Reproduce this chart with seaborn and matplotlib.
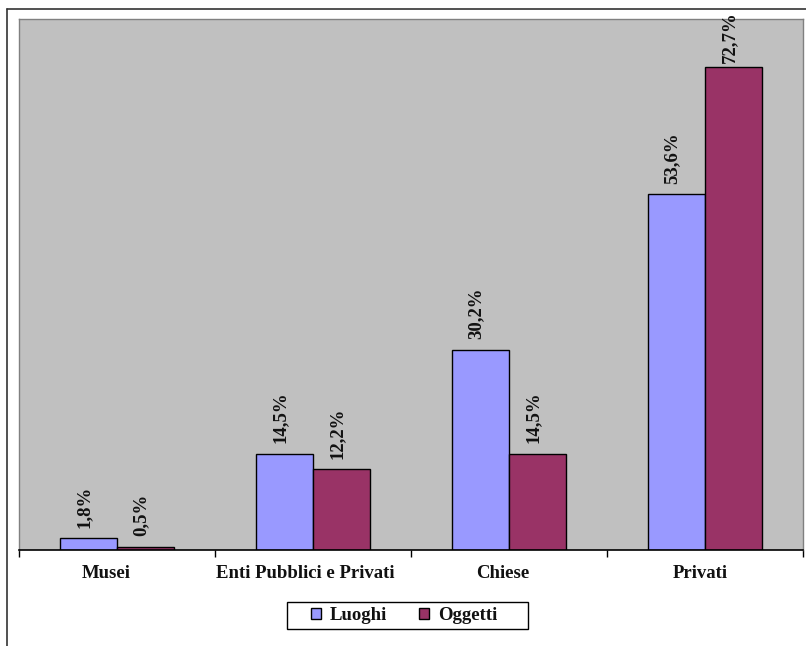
import matplotlib
matplotlib.use("Agg")
import matplotlib.pyplot as plt
from matplotlib.lines import Line2D
from matplotlib.patches import Patch, Rectangle
from matplotlib.transforms import ScaledTranslation
import seaborn as sns
import pandas as pd

categories = ["Musei", "Enti Pubblici e Privati", "Chiese", "Privati"]
luoghi = [1.8, 14.5, 30.2, 53.6]
oggetti = [0.5, 12.2, 14.5, 72.7]
series_names = ["Luoghi", "Oggetti"]
colors = ["#9999FF", "#993366"]

df = pd.DataFrame({
    "categoria": categories * 2,
    "serie": [series_names[0]] * 4 + [series_names[1]] * 4,
    "valore": luoghi + oggetti,
})

sns.set_style("white")
plt.rcParams["font.family"] = ["Liberation Serif", "DejaVu Serif"]

fig = plt.figure(figsize=(8.06, 6.46), dpi=100)
W, H = 806, 646
ax = fig.add_axes([19 / W, (H - 550) / H, (803 - 19) / W, (550 - 19) / H])
ax.set_facecolor("#C0C0C0")

sns.barplot(data=df, x="categoria", y="valore", hue="serie", order=categories,
            hue_order=series_names, palette=colors, width=0.58,
            edgecolor="black", linewidth=1.0, saturation=1, ax=ax, legend=False)

ax.set_ylim(0, 80)
ax.set_xlim(-0.5, 3.5)

for cont, vals in zip(ax.containers, [luoghi, oggetti]):
    texts = ax.bar_label(cont, labels=[f"{v:.1f}%".replace(".", ",") for v in vals],
                         rotation=90, padding=7.5, fontsize=13.5, fontweight="bold",
                         color="#111111", clip_on=False)
    for t in texts:
        # labels that would rise past the top of the plot sit closer to the bar
        pad = 3.5 if t.xy[1] > 65 else 7.5
        t.xyann = (-3, pad)

ax.set_yticks([])
ax.set_xlabel("")
ax.set_ylabel("")
ax.set_xticks(range(4))
ax.set_xticklabels(categories, fontsize=13.5, fontweight="bold", color="#111111")
ax.tick_params(axis="x", which="major", length=0, pad=11, bottom=True)
ax.set_xticks([-0.5, 0.5, 1.5, 2.5, 3.5], minor=True)
ax.tick_params(axis="x", which="minor", length=5, width=1, color="black",
               direction="out", bottom=True)
label_shift_px = [-11, -8, -6, -5]
for lab, dx in zip(ax.get_xticklabels(), label_shift_px):
    lab.set_transform(lab.get_transform() +
                      ScaledTranslation(dx / 100, 0, fig.dpi_scale_trans))

for side in ["top", "right", "left"]:
    ax.spines[side].set_color("#808080")
    ax.spines[side].set_linewidth(1.0)
ax.spines["bottom"].set_color("black")
ax.spines["bottom"].set_linewidth(1.2)

# legend with a plain rectangular frame
handles = [Patch(facecolor=c, edgecolor="black", linewidth=1.0) for c in colors]
leg = fig.legend(handles, series_names, loc="center",
                 bbox_to_anchor=(404 / W, (H - 615.5) / H), ncol=2,
                 frameon=False, handlelength=0.55, handleheight=0.55,
                 handletextpad=0.45, columnspacing=1.7,
                 prop={"weight": "bold", "size": 13.5})
for t in leg.get_texts():
    t.set_color("#111111")
fig.add_artist(Rectangle((287 / W, (H - 629) / H), (528 - 287) / W, 27 / H,
                         transform=fig.transFigure, fill=False,
                         edgecolor="black", linewidth=1.0))

# outer chart border
fig.add_artist(Line2D([7 / W, 7 / W], [0, (H - 9) / H], color="#333333", lw=1.2,
                      transform=fig.transFigure))
fig.add_artist(Line2D([7 / W, 1], [(H - 9) / H, (H - 9) / H], color="#333333",
                      lw=1.2, transform=fig.transFigure))

fig.savefig("out.png", dpi=100, facecolor="white")
